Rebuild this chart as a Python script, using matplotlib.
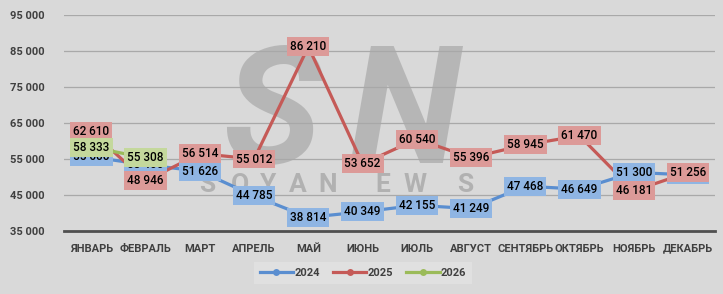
import matplotlib.pyplot as plt
from matplotlib.ticker import FuncFormatter

plt.rcParams['font.family'] = ['Roboto', 'DejaVu Sans']

months = ['ЯНВАРЬ', 'ФЕВРАЛЬ', 'МАРТ', 'АПРЕЛЬ', 'МАЙ', 'ИЮНЬ', 'ИЮЛЬ',
          'АВГУСТ', 'СЕНТЯБРЬ', 'ОКТЯБРЬ', 'НОЯБРЬ', 'ДЕКАБРЬ']
y2024 = [55600, 53400, 51626, 44785, 38814, 40349, 42155, 41249, 47468, 46649, 51300, 50600]
y2025 = [62610, 48946, 56514, 55012, 86210, 53652, 60540, 55396, 58945, 61470, 46181, 51256]
y2026 = [58333, 55308]
yticks = [35000, 45000, 55000, 65000, 75000, 85000, 95000]

series = [
    ('2024', y2024, '#5a8ed0', '#8fb5e3'),
    ('2025', y2025, '#c55a57', '#dc9a98'),
    ('2026', y2026, '#9bbb59', '#c4d89c'),
]

bg = '#d9d9d9'
fig = plt.figure(figsize=(7.23, 2.94), dpi=100, facecolor=bg)
ax = fig.add_axes([0.089, 0.214, 0.9, 0.735])
ax.set_facecolor(bg)


def fmt(v):
    return f'{int(v):,}'.replace(',', ' ')


# watermark, kept behind lines and labels
ax.text(272 / 723, 1 - 118 / 294, 'S', transform=fig.transFigure, fontsize=118,
        fontstyle='italic', fontweight='bold', color='#a8a8a8', alpha=0.7,
        ha='center', va='center', zorder=1)
ax.text(405 / 723, 1 - 118 / 294, 'N', transform=fig.transFigure, fontsize=118,
        fontstyle='italic', fontweight='bold', color='#a8a8a8', alpha=0.7,
        ha='center', va='center', zorder=1)
for xp, ch in zip([207, 240, 268, 298, 328, 383, 415, 465], 'SOYANEWS'):
    ax.text(xp / 723, 1 - 185 / 294, ch, transform=fig.transFigure, fontsize=19,
            fontweight='bold', color='#a8a8a8', alpha=0.8, ha='center',
            va='center', zorder=1)

for name, vals, lc, bc in series:
    x = list(range(len(vals)))
    ax.plot(x, vals, color=lc, lw=2.3, marker='o', markersize=10,
            markeredgewidth=0, label=name, zorder=3)

for name, vals, lc, bc in series:
    for i, v in enumerate(vals):
        ax.text(i, v, fmt(v), ha='center', va='center', fontsize=8.5, color='black',
                fontweight='medium', zorder=5,
                bbox=dict(boxstyle='square,pad=0.25', fc=bc, ec='none'))

ax.set_xlim(-0.5, 11.5)
ax.set_ylim(35000, 95000)
ax.set_yticks(yticks)
ax.yaxis.set_major_formatter(FuncFormatter(lambda v, p: fmt(v)))
ax.set_xticks(range(12))
ax.set_xticklabels(months)
ax.tick_params(axis='both', length=0, labelsize=8, colors='#404040', pad=9)
ax.tick_params(axis='y', pad=14)
for lab in ax.get_xticklabels() + ax.get_yticklabels():
    lab.set_fontweight('bold')
ax.grid(axis='y', color='#a9a9a9', lw=0.9, zorder=0)
ax.set_axisbelow(True)
for s in ['top', 'right', 'left']:
    ax.spines[s].set_visible(False)
ax.spines['bottom'].set_color('#505050')
ax.spines['bottom'].set_linewidth(2)

leg = ax.legend(loc='center', bbox_to_anchor=(363 / 723, 1 - 273 / 294),
                bbox_transform=fig.transFigure, ncol=3, frameon=True, fontsize=8,
                handlelength=3, columnspacing=1.2, handletextpad=0.1,
                borderpad=0.5, fancybox=False)
leg.get_frame().set_facecolor('#e3e3e3')
leg.get_frame().set_edgecolor('none')
for t in leg.get_texts():
    t.set_color('#404040')
    t.set_fontweight('bold')
for h in leg.legend_handles:
    h.set_markersize(5)

fig.savefig('out.png', dpi=100, facecolor=bg)
